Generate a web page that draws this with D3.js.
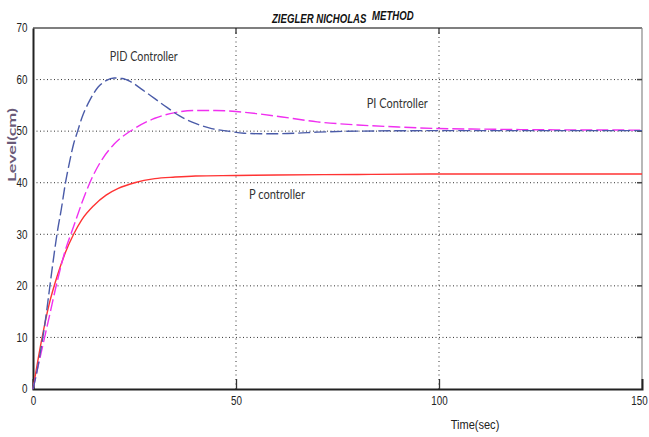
<!DOCTYPE html>
<html>
<head>
<meta charset="utf-8">
<script src="https://cdnjs.cloudflare.com/ajax/libs/d3/7.8.5/d3.min.js"></script>
<style>
  body { margin: 0; background: #fff; }
  svg { display: block; }
</style>
</head>
<body>
<div id="chart"></div>
<script>
// values
var xTicks = [0, 50, 100, 150];
var yTicks = [0, 10, 20, 30, 40, 50, 60, 70];

var pTime = [0, 2, 4, 6, 8, 10, 12, 15, 18, 21, 25, 30, 35, 40, 50, 60, 80, 100, 150];
var pLevel = [0, 9, 16.5, 22, 26.5, 30, 32.8, 35.6, 37.6, 38.9, 40, 40.8, 41.1, 41.3, 41.4, 41.5, 41.6, 41.7, 41.7];

var piTime = [0, 2, 4, 6, 8, 10, 12, 14, 17, 20, 25, 30, 35, 40, 45, 50, 55, 60, 70, 80, 90, 100, 110, 120, 150];
var piLevel = [0, 7, 14, 21, 27, 31.5, 36, 40, 44.5, 47.5, 50.5, 52.5, 53.6, 54, 54, 53.8, 53.4, 52.9, 51.8, 51.2, 50.8, 50.5, 50.4, 50.3, 50.2];

var pidTime = [0, 1, 2, 3, 4, 5, 6, 7, 8, 9, 10, 11, 12, 14, 16, 18, 20, 22, 24, 27, 30, 33, 36, 40, 44, 48, 52, 56, 60, 65, 70, 80, 100, 150];
var pidLevel = [0, 3.5, 8, 13, 19, 25, 30.5, 35, 40, 44, 47.5, 50, 52.5, 56, 58.5, 59.8, 60.3, 60.2, 59.6, 58, 56.3, 54.6, 53, 51.5, 50.5, 50, 49.6, 49.5, 49.5, 49.6, 49.8, 50, 50.1, 50.1];

var w = 649, h = 437;
var m = { left: 33, top: 28, right: 642, bottom: 389 };

var svg = d3.select("#chart").append("svg")
  .attr("width", w)
  .attr("height", h);

var x = d3.scaleLinear().domain([0, 150]).range([m.left, m.right]);
var y = d3.scaleLinear().domain([0, 70]).range([m.bottom, m.top]);

var tickFont = "'Liberation Sans', Arial, sans-serif";

// grid
svg.append("g")
  .selectAll("line.gy")
  .data(yTicks.filter(d => d > 0 && d < 70))
  .enter().append("line")
  .attr("x1", m.left).attr("x2", m.right)
  .attr("y1", d => y(d)).attr("y2", d => y(d))
  .style("stroke", "#333")
  .style("stroke-width", 1)
  .style("stroke-dasharray", "1,2.5");

svg.append("g")
  .selectAll("line.gx")
  .data(xTicks.filter(d => d > 0 && d < 150))
  .enter().append("line")
  .attr("x1", d => x(d)).attr("x2", d => x(d))
  .attr("y1", m.top).attr("y2", m.bottom)
  .style("stroke", "#333")
  .style("stroke-width", 1)
  .style("stroke-dasharray", "1,3.5");

// box: top & right
svg.append("line").attr("x1", m.left).attr("x2", m.right).attr("y1", m.top).attr("y2", m.top)
  .style("stroke", "#555").style("stroke-width", 1.5);
svg.append("line").attr("x1", m.right).attr("x2", m.right).attr("y1", m.top).attr("y2", m.bottom)
  .style("stroke", "#888").style("stroke-width", 1.2);

// inward ticks on right / top
svg.append("g").selectAll("line")
  .data(yTicks.filter(d => d > 0 && d < 70))
  .enter().append("line")
  .attr("x1", m.right - 5).attr("x2", m.right)
  .attr("y1", d => y(d)).attr("y2", d => y(d))
  .style("stroke", "#444").style("stroke-width", 1.5);
svg.append("g").selectAll("line")
  .data(xTicks.filter(d => d > 0 && d < 150))
  .enter().append("line")
  .attr("x1", d => x(d)).attr("x2", d => x(d))
  .attr("y1", m.top).attr("y2", m.top + 6)
  .style("stroke", "#333").style("stroke-width", 1.3);

// axes
var xAxis = svg.append("g")
  .attr("transform", "translate(0," + m.bottom + ")")
  .call(d3.axisBottom(x).tickValues(xTicks).tickSize(-10).tickPadding(7));
var yAxis = svg.append("g")
  .attr("transform", "translate(" + m.left + ",0)")
  .call(d3.axisLeft(y).tickValues(yTicks).tickSize(0).tickPadding(3));

[xAxis, yAxis].forEach(function (g) {
  g.select(".domain").style("stroke", "#222").style("stroke-width", 2);
  g.selectAll(".tick line").style("stroke", "#333").style("stroke-width", 1.3);
  g.selectAll(".tick text")
    .style("font-family", tickFont)
    .style("font-size", "12px")
    .style("fill", "#222");
});
// narrow digits like the original
xAxis.selectAll(".tick text").attr("transform", "scale(0.82,1)");
yAxis.selectAll(".tick text").attr("transform", "translate(-3,0) scale(0.82,1)");
xAxis.selectAll(".tick").filter(d => d === 0 || d === 150).select("line").remove();
xAxis.selectAll(".tick").filter(d => d === 150).select("text").attr("transform", "translate(-3,0) scale(0.82,1)");

// curves
var line = d3.line()
  .x(d => x(d[0]))
  .y(d => y(d[1]))
  .curve(d3.curveMonotoneX);

var series = [
  { t: pTime, v: pLevel, color: "#ff3333", dash: null, width: 1.4 },
  { t: piTime, v: piLevel, color: "#f030f0", dash: "12,4", width: 1.4 },
  { t: pidTime, v: pidLevel, color: "#4a5ba8", dash: "12,4", width: 1.4 }
];

series.forEach(function (s) {
  svg.append("path")
    .datum(s.t.map((t, i) => [t, s.v[i]]))
    .attr("d", line)
    .style("fill", "none")
    .style("stroke", s.color)
    .style("stroke-width", s.width)
    .style("stroke-dasharray", s.dash);
});

// annotations
var noteFont = "Lato, 'Open Sans', sans-serif";
var notes = [
  { text: "PID Controller", t: 18.9, v: 63.6, len: 68 },
  { text: "PI Controller", t: 82.2, v: 54.5, len: 61 },
  { text: "P controller", t: 53.2, v: 36.8, len: 56 }
];
svg.append("g").selectAll("text")
  .data(notes)
  .enter().append("text")
  .attr("x", d => x(d.t))
  .attr("y", d => y(d.v))
  .attr("textLength", d => d.len)
  .attr("lengthAdjust", "spacingAndGlyphs")
  .style("font-family", noteFont)
  .style("font-size", "13px")
  .style("fill", "#333")
  .text(d => d.text);

// title (squeezed horizontally)
var titleStyle = function (t) {
  t.style("font-family", tickFont)
    .style("font-size", "12px")
    .style("font-weight", "bold")
    .style("font-style", "italic")
    .style("fill", "#111");
};
svg.append("text")
  .attr("transform", "translate(272,23) scale(0.8,1)")
  .call(titleStyle).text("ZIEGLER NICHOLAS");
svg.append("text")
  .attr("transform", "translate(372,20) scale(0.8,1)")
  .call(titleStyle).text("METHOD");

// axis labels
svg.append("text")
  .attr("transform", "translate(16,145) rotate(-90)")
  .attr("text-anchor", "middle")
  .attr("textLength", 74)
  .attr("lengthAdjust", "spacingAndGlyphs")
  .style("font-family", noteFont)
  .style("font-size", "11.5px")
  .style("font-weight", "bold")
  .style("fill", "#6a5a78")
  .text("Level(cm)");

svg.append("text")
  .attr("transform", "translate(475,429) scale(0.85,1)")
  .attr("text-anchor", "middle")
  .style("font-family", tickFont)
  .style("font-size", "13px")
  .style("fill", "#222")
  .text("Time(sec)");
</script>
</body>
</html>
